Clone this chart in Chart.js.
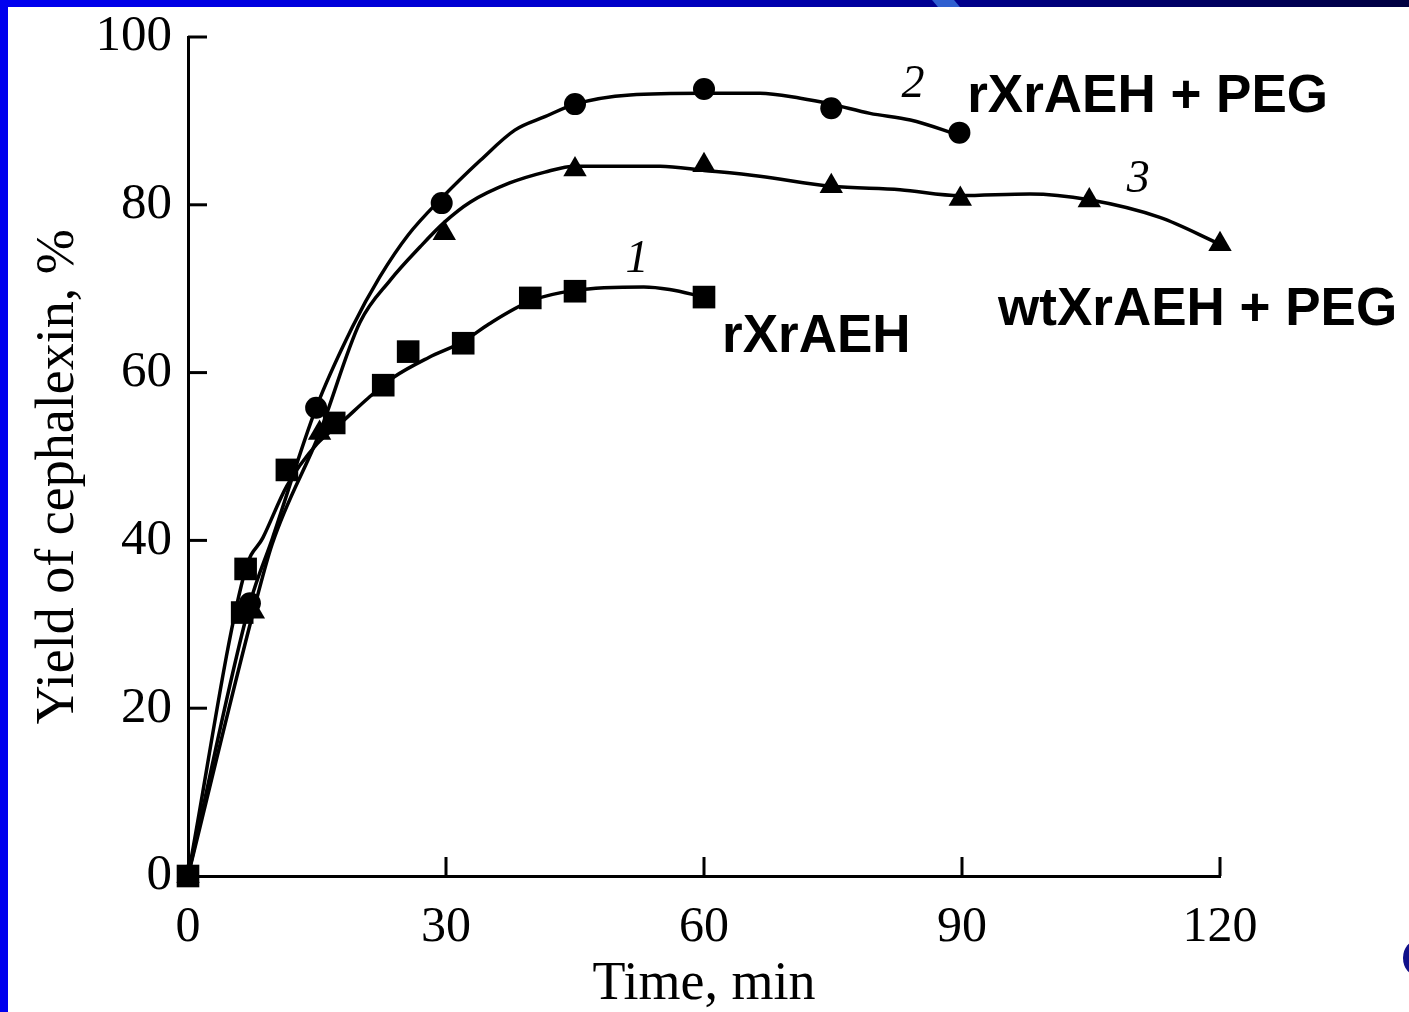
<!DOCTYPE html>
<html>
<head>
<meta charset="utf-8">
<script src="https://cdn.jsdelivr.net/npm/chart.js@4.4.1/dist/chart.umd.min.js"></script>
<style>
  html, body { margin: 0; padding: 0; background: #ffffff; overflow: hidden; }
  #wrap { position: absolute; left: 0; top: 0; width: 1409px; height: 1012px; }
  #leftbar { position: absolute; left: 0; top: 0; width: 8px; height: 1012px; background: #0000ee; z-index: 5; }
  #topbar { position: absolute; left: 0; top: 0; width: 1409px; height: 7px; background: linear-gradient(to right, #0000f0 0%, #0000c8 45%, #00007a 75%, #000040 100%); z-index: 5; }
  #slash { position: absolute; left: 935px; top: 0; width: 22px; height: 7px; background: #2f5fd0; transform: skewX(40deg); z-index: 6; }
  #dot { position: absolute; left: 1403px; top: 940px; width: 30px; height: 36px; border-radius: 50%; background: #10108a; z-index: 5; }
</style>
</head>
<body>
<div id="wrap"><canvas id="c" width="1409" height="1012"></canvas></div>
<div id="leftbar"></div><div id="topbar"></div><div id="slash"></div><div id="dot"></div>
<script>
// ---- Data ----
const xTicks = [0, 30, 60, 90, 120];
const yTicks = [0, 20, 40, 60, 80, 100];

// Series 1: rXrAEH (squares)
const s1Time  = [0, 6.3, 6.7, 11.5, 17.0, 22.7, 25.6, 32.0, 39.8, 45.0, 60.0];
const s1Yield = [0, 31.4, 36.6, 48.4, 54.0, 58.5, 62.5, 63.5, 68.9, 69.7, 69.0];
// Series 2: rXrAEH + PEG (circles)
const s2Time  = [0, 7.2, 14.9, 29.5, 45.0, 60.0, 74.8, 89.7];
const s2Yield = [0, 32.5, 55.8, 80.2, 92.0, 93.8, 91.5, 88.6];
// Series 3: wtXrAEH + PEG (triangles)
const s3Time  = [0, 7.6, 15.3, 29.8, 45.0, 60.0, 74.8, 89.8, 104.8, 120.0];
const s3Yield = [0, 31.5, 52.8, 76.6, 84.2, 84.7, 82.2, 80.7, 80.5, 75.3];

// Fitted curves as drawn in the picture
const c1Time  = [0, 6.7, 8.7, 11.5, 15.0, 18.0, 21.0, 24.0, 28.0, 32.0, 35.0, 40.0, 45.0, 53.0, 56.0, 60.0];
const c1Yield = [0, 36.6, 40.3, 46.5, 51.5, 54.2, 57.0, 59.5, 61.8, 63.7, 65.8, 68.6, 69.8, 70.2, 69.9, 69.0];
const c2Time  = [0, 7.2, 9.8, 14.9, 19.1, 22.3, 25.6, 29.5, 34.0, 38.0, 41.5, 45.0, 51.4, 60.0, 66.5, 71.2, 74.8, 79.3, 84.0, 89.7];
const c2Yield = [0, 32.5, 40.2, 55.8, 65.4, 71.4, 76.4, 80.8, 85.3, 88.9, 90.5, 92.0, 93.1, 93.3, 93.3, 92.7, 92.0, 90.9, 90.1, 88.3];
const c3Time  = [0, 7.6, 9.8, 15.3, 20.0, 23.5, 27.0, 29.8, 32.8, 37.4, 41.5, 45.0, 54.9, 60.0, 66.5, 74.8, 82.8, 89.8, 97.9, 104.8, 113.0, 120.0];
const c3Yield = [0, 31.5, 39.6, 52.8, 66.0, 71.0, 75.0, 77.9, 80.3, 82.6, 83.9, 84.6, 84.6, 84.1, 83.4, 82.2, 81.8, 81.1, 81.3, 80.6, 78.5, 75.3];

// Annotations
const labelTexts = ['1', '2', '3', 'rXrAEH', 'rXrAEH + PEG', 'wtXrAEH + PEG'];
const labelTime  = [52.2, 84.3, 110.5, 62.1, 90.6, 94.2];
const labelYield = [72.0, 92.8, 81.5, 62.5, 91.1, 65.7];
const labelItalic = [true, true, true, false, false, false];

const pts = (xs, ys) => xs.map((x, i) => ({ x: x, y: ys[i] }));

const curveDs = (xs, ys) => ({
  data: pts(xs, ys), showLine: true, pointRadius: 0, borderColor: '#000', borderWidth: 3.5,
  tension: 0.4, cubicInterpolationMode: 'monotone', fill: false, order: 5
});
const markDs = (xs, ys, style, r) => ({
  data: pts(xs, ys), showLine: false, pointStyle: style, pointRadius: r,
  backgroundColor: '#000', borderColor: '#000', borderWidth: 0, clip: false, order: 1
});

const inwardTicks = {
  id: 'inwardTicks',
  afterDraw(chart) {
    const ctx = chart.ctx, xs = chart.scales.x, ys = chart.scales.y, a = chart.chartArea;
    ctx.save();
    ctx.strokeStyle = '#000'; ctx.lineWidth = 3; ctx.lineCap = 'butt';
    xTicks.forEach(v => { if (v === 0) return; const px = xs.getPixelForValue(v);
      ctx.beginPath(); ctx.moveTo(px, a.bottom); ctx.lineTo(px, a.bottom - 19); ctx.stroke(); });
    yTicks.forEach(v => { if (v === 0) return; const py = ys.getPixelForValue(v);
      ctx.beginPath(); ctx.moveTo(a.left, py); ctx.lineTo(a.left + 19, py); ctx.stroke(); });
    ctx.fillStyle = '#000'; ctx.textBaseline = 'alphabetic';
    labelTexts.forEach((t, i) => {
      const px = xs.getPixelForValue(labelTime[i]), py = ys.getPixelForValue(labelYield[i]);
      if (labelItalic[i]) { ctx.font = 'italic 46px "Liberation Serif"'; ctx.textAlign = 'center'; }
      else { ctx.font = 'bold 53px "Liberation Sans"'; ctx.textAlign = 'left'; }
      ctx.fillText(t, px, py);
    });
    ctx.restore();
  }
};

new Chart(document.getElementById('c'), {
  type: 'scatter',
  data: { datasets: [
    markDs(s1Time, s1Yield, 'rect', 16),
    markDs(s2Time, s2Yield, 'circle', 11),
    markDs(s3Time, s3Yield, 'triangle', 13.5),
    curveDs(c1Time, c1Yield), curveDs(c2Time, c2Yield), curveDs(c3Time, c3Yield)
  ]},
  options: {
    responsive: false, animation: false,
    layout: { padding: { left: 0, right: 189, top: 37, bottom: 0 } },
    plugins: { legend: { display: false }, tooltip: { enabled: false } },
    scales: {
      x: {
        type: 'linear', min: 0, max: 120,
        afterBuildTicks(s) { s.ticks = xTicks.map(v => ({ value: v })); },
        afterFit(s) { s.height = 136; },
        grid: { drawOnChartArea: false, drawTicks: false },
        border: { display: true, color: '#000', width: 3 },
        ticks: { color: '#000', padding: 22, font: { family: 'Liberation Serif', size: 50 }, maxRotation: 0 },
        title: { display: true, text: 'Time, min', color: '#000', padding: { top: 0, bottom: 0 },
          font: { family: 'Liberation Serif', size: 54, lineHeight: 1.0 } }
      },
      y: {
        type: 'linear', min: 0, max: 100,
        afterBuildTicks(s) { s.ticks = yTicks.map(v => ({ value: v })); },
        afterFit(s) { s.width = 188; },
        grid: { drawOnChartArea: false, drawTicks: false },
        border: { display: true, color: '#000', width: 3 },
        ticks: { color: '#000', padding: 16, font: { family: 'Liberation Serif', size: 51, lineHeight: 0.8 } },
        title: { display: true, text: 'Yield of cephalexin, %   ', color: '#000', padding: { top: 26, bottom: 0 },
          font: { family: 'Liberation Serif', size: 54 } }
      }
    }
  },
  plugins: [inwardTicks]
});
</script>
</body>
</html>
